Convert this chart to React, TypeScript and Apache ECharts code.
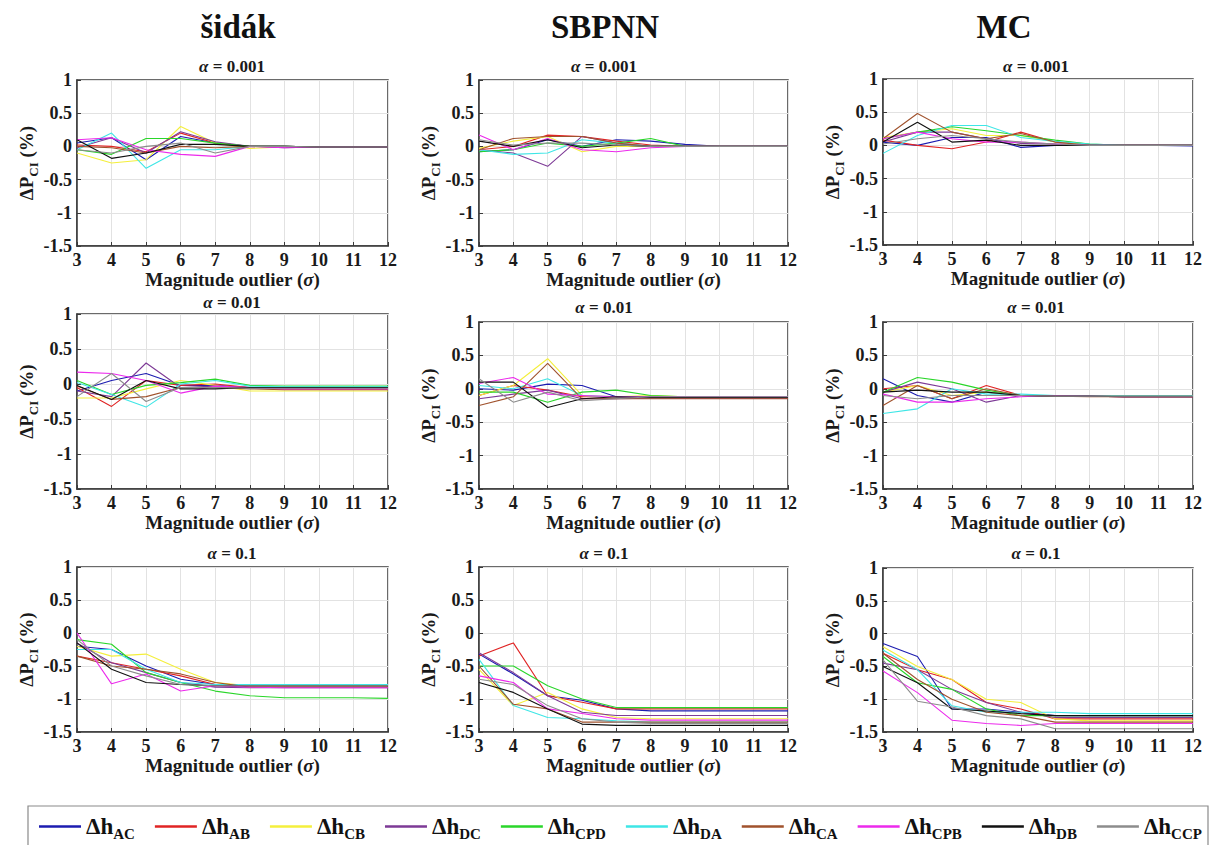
import React, { useEffect, useRef } from "react";
import * as echarts from "echarts";

const X = [3, 4, 5, 6, 7, 8, 9, 10, 11, 12];
const SERIES = ["AC", "AB", "CB", "DC", "CPD", "DA", "CA", "CPB", "DB", "CCP"];
const COLORS = ["#1c1cb0", "#e02424", "#f4ef3c", "#7d3a96", "#2ad62a", "#3ee6e6", "#a0522d", "#ec2aec", "#111111", "#8c8c8c"];
const METHODS = ["šidák", "SBPNN", "MC"];
const ALPHAS = ["0.001", "0.01", "0.1"];
const Y_TICKS = [-1.5, 1];

// šidák, α = 0.001
const sidak001 = [
  [0.05, 0.13, -0.2, 0.15, 0.05, 0, 0, -0.01, -0.01, -0.01],
  [0.02, 0.0, -0.08, 0.2, 0.05, 0, 0, -0.01, -0.01, -0.01],
  [-0.1, -0.25, -0.2, 0.3, 0.05, -0.03, -0.01, -0.01, -0.01, -0.01],
  [-0.02, 0.13, -0.1, 0.22, 0.07, 0, -0.02, -0.01, -0.01, -0.01],
  [-0.05, -0.12, 0.12, 0.12, 0.05, 0, 0, -0.01, -0.01, -0.01],
  [-0.05, 0.2, -0.33, -0.05, -0.05, 0, 0, -0.01, -0.01, -0.01],
  [0.0, -0.02, -0.1, 0.0, -0.02, 0, 0, -0.01, -0.01, -0.01],
  [0.1, 0.13, -0.05, -0.12, -0.15, 0, -0.02, -0.01, -0.01, -0.01],
  [0.1, -0.18, -0.1, 0.03, 0.03, 0, 0, -0.01, -0.01, -0.01],
  [-0.05, -0.1, 0.0, 0.05, -0.1, 0, 0, -0.01, -0.01, -0.01],
];
// SBPNN, α = 0.001
const sbpnn001 = [
  [-0.08, -0.05, 0.1, 0.0, 0.1, 0.08, 0.03, 0, 0, 0],
  [-0.05, 0.0, 0.17, 0.15, 0.08, 0.02, 0, 0, 0, 0],
  [-0.03, 0.08, 0.15, -0.08, 0.0, 0.0, 0, 0, 0, 0],
  [-0.05, -0.1, -0.3, 0.15, 0.05, 0, 0, 0, 0, 0],
  [-0.08, -0.05, 0.05, 0.0, 0.05, 0.12, 0.0, 0, 0, 0],
  [-0.05, -0.12, -0.1, 0.1, 0.05, 0, 0, 0, 0, 0],
  [-0.05, 0.12, 0.15, 0.15, 0.05, 0, 0, 0, 0, 0],
  [0.17, -0.05, 0.12, -0.05, -0.08, -0.02, 0, 0, 0, 0],
  [0.08, 0.0, 0.1, -0.02, 0.02, 0, 0, 0, 0, 0],
  [0.1, 0.02, 0.05, 0.05, 0.02, 0, 0, 0, 0, 0],
];
// MC, α = 0.001
const mc001 = [
  [0.05, 0.0, 0.12, 0.12, -0.03, 0, 0, 0, 0, -0.01],
  [0.08, 0.0, -0.05, 0.05, 0.2, 0.05, 0, 0, 0, 0],
  [0.12, 0.2, 0.25, 0.15, 0.15, 0.05, 0.01, 0, 0, 0],
  [0.05, 0.2, 0.2, 0.1, 0.03, 0.02, 0, 0, 0, 0],
  [0.1, 0.2, 0.28, 0.22, 0.15, 0.08, 0.02, 0, 0, 0],
  [-0.12, 0.15, 0.3, 0.3, 0.12, 0.06, 0.02, 0, 0, 0],
  [0.1, 0.48, 0.2, 0.1, 0.18, 0.05, 0, 0, 0, 0],
  [0.1, 0.2, 0.1, 0.05, 0.05, 0.02, 0, 0, 0, 0],
  [0.05, 0.35, 0.05, 0.08, 0.0, 0.0, 0, 0, 0, 0],
  [0.02, 0.1, 0.15, 0.1, 0.05, 0.02, 0, 0, 0, 0],
];
// šidák, α = 0.01
const sidak01 = [
  [-0.1, 0.05, 0.15, -0.02, -0.02, -0.05, -0.05, -0.05, -0.05, -0.05],
  [-0.05, -0.32, 0.05, -0.02, 0.0, -0.05, -0.06, -0.06, -0.06, -0.06],
  [-0.2, -0.2, -0.07, 0.05, -0.02, -0.1, -0.1, -0.1, -0.1, -0.1],
  [-0.1, -0.18, 0.3, -0.05, -0.03, -0.06, -0.07, -0.07, -0.07, -0.07],
  [0.05, -0.15, -0.02, 0.02, 0.07, -0.02, -0.03, -0.03, -0.03, -0.03],
  [0.02, -0.15, -0.33, 0.0, 0.05, -0.03, -0.04, -0.04, -0.04, -0.04],
  [-0.03, -0.22, -0.18, -0.05, -0.05, -0.07, -0.08, -0.08, -0.08, -0.08],
  [0.17, 0.15, 0.05, -0.13, -0.03, -0.05, -0.07, -0.07, -0.07, -0.07],
  [-0.02, -0.22, 0.05, -0.07, -0.07, -0.05, -0.05, -0.05, -0.05, -0.05],
  [-0.18, 0.15, -0.25, -0.05, -0.05, -0.06, -0.06, -0.06, -0.06, -0.06],
];
// SBPNN, α = 0.01
const sbpnn01 = [
  [0.0, -0.02, 0.07, 0.05, -0.12, -0.12, -0.13, -0.13, -0.13, -0.13],
  [-0.1, 0.05, -0.02, -0.12, -0.12, -0.13, -0.14, -0.14, -0.14, -0.14],
  [-0.1, 0.05, 0.45, -0.1, -0.12, -0.1, -0.12, -0.12, -0.12, -0.12],
  [-0.15, -0.08, -0.02, -0.15, -0.15, -0.14, -0.14, -0.14, -0.14, -0.14],
  [-0.05, -0.05, -0.2, -0.05, -0.02, -0.1, -0.12, -0.12, -0.12, -0.12],
  [0.05, 0.0, 0.15, -0.1, -0.12, -0.12, -0.12, -0.12, -0.12, -0.12],
  [-0.25, -0.12, 0.38, -0.15, -0.15, -0.15, -0.15, -0.15, -0.15, -0.15],
  [0.08, 0.17, -0.08, -0.1, -0.12, -0.12, -0.12, -0.12, -0.12, -0.12],
  [0.1, 0.1, -0.28, -0.15, -0.12, -0.13, -0.13, -0.13, -0.13, -0.13],
  [0.15, -0.2, -0.05, -0.18, -0.15, -0.12, -0.12, -0.12, -0.12, -0.12],
];
// MC, α = 0.01
const mc01 = [
  [0.15, -0.1, -0.2, -0.05, -0.1, -0.11, -0.11, -0.11, -0.11, -0.11],
  [0.0, 0.05, -0.15, 0.05, -0.1, -0.11, -0.11, -0.12, -0.12, -0.12],
  [-0.05, 0.05, -0.1, -0.05, -0.1, -0.11, -0.11, -0.12, -0.12, -0.12],
  [-0.05, 0.1, 0.0, -0.2, -0.1, -0.11, -0.11, -0.12, -0.12, -0.12],
  [-0.05, 0.17, 0.1, -0.02, -0.1, -0.11, -0.11, -0.11, -0.11, -0.11],
  [-0.37, -0.3, 0.0, -0.08, -0.08, -0.1, -0.11, -0.11, -0.11, -0.11],
  [-0.25, 0.05, -0.15, 0.0, -0.1, -0.11, -0.12, -0.12, -0.12, -0.12],
  [-0.08, -0.2, -0.2, -0.15, -0.12, -0.1, -0.11, -0.12, -0.12, -0.12],
  [-0.05, -0.02, -0.05, -0.05, -0.1, -0.11, -0.11, -0.12, -0.12, -0.12],
  [-0.1, -0.15, -0.1, -0.1, -0.1, -0.11, -0.11, -0.11, -0.11, -0.11],
];
// šidák, α = 0.1
const sidak1 = [
  [-0.2, -0.25, -0.5, -0.7, -0.78, -0.8, -0.8, -0.8, -0.8, -0.8],
  [-0.35, -0.45, -0.55, -0.65, -0.78, -0.8, -0.8, -0.8, -0.8, -0.8],
  [-0.2, -0.35, -0.32, -0.55, -0.75, -0.8, -0.8, -0.8, -0.8, -0.8],
  [-0.15, -0.45, -0.6, -0.75, -0.82, -0.83, -0.83, -0.83, -0.83, -0.83],
  [-0.1, -0.17, -0.6, -0.75, -0.88, -0.95, -0.98, -0.98, -0.98, -0.99],
  [-0.25, -0.25, -0.55, -0.75, -0.78, -0.78, -0.78, -0.78, -0.78, -0.78],
  [-0.35, -0.5, -0.55, -0.62, -0.75, -0.82, -0.82, -0.82, -0.82, -0.82],
  [0.0, -0.77, -0.62, -0.88, -0.8, -0.82, -0.83, -0.83, -0.83, -0.83],
  [-0.15, -0.55, -0.75, -0.78, -0.8, -0.8, -0.8, -0.8, -0.8, -0.8],
  [-0.1, -0.5, -0.65, -0.78, -0.8, -0.8, -0.8, -0.8, -0.8, -0.8],
];
// SBPNN, α = 0.1
const sbpnn1 = [
  [-0.32, -0.62, -0.95, -1.02, -1.15, -1.18, -1.18, -1.18, -1.18, -1.18],
  [-0.35, -0.15, -0.95, -1.05, -1.15, -1.15, -1.15, -1.15, -1.15, -1.15],
  [-0.55, -1.1, -0.9, -1.15, -1.28, -1.3, -1.3, -1.3, -1.3, -1.3],
  [-0.3, -0.6, -0.95, -1.2, -1.25, -1.25, -1.25, -1.25, -1.25, -1.25],
  [-0.5, -0.5, -0.8, -1.0, -1.13, -1.13, -1.13, -1.13, -1.13, -1.13],
  [-0.4, -1.1, -1.28, -1.3, -1.33, -1.35, -1.35, -1.35, -1.35, -1.35],
  [-0.5, -1.08, -1.15, -1.35, -1.35, -1.35, -1.35, -1.35, -1.35, -1.35],
  [-0.65, -0.75, -1.15, -1.22, -1.3, -1.32, -1.32, -1.32, -1.32, -1.32],
  [-0.75, -0.9, -1.15, -1.38, -1.4, -1.4, -1.4, -1.4, -1.4, -1.4],
  [-0.7, -0.78, -1.1, -1.3, -1.35, -1.37, -1.37, -1.37, -1.37, -1.37],
];
// MC, α = 0.1
const mc1 = [
  [-0.15, -0.35, -1.15, -1.15, -1.2, -1.25, -1.25, -1.25, -1.25, -1.25],
  [-0.3, -0.55, -0.7, -1.05, -1.15, -1.3, -1.3, -1.3, -1.3, -1.3],
  [-0.2, -0.5, -0.7, -1.0, -1.05, -1.3, -1.33, -1.33, -1.33, -1.33],
  [-0.45, -0.55, -0.85, -1.05, -1.2, -1.28, -1.28, -1.28, -1.28, -1.28],
  [-0.35, -0.75, -0.85, -1.15, -1.25, -1.25, -1.25, -1.25, -1.25, -1.25],
  [-0.25, -0.55, -1.1, -1.2, -1.2, -1.2, -1.22, -1.22, -1.22, -1.22],
  [-0.3, -0.7, -1.0, -1.2, -1.25, -1.35, -1.35, -1.35, -1.35, -1.35],
  [-0.57, -0.9, -1.32, -1.37, -1.4, -1.37, -1.37, -1.37, -1.37, -1.37],
  [-0.5, -0.75, -1.15, -1.18, -1.22, -1.25, -1.25, -1.25, -1.25, -1.25],
  [-0.4, -1.03, -1.12, -1.25, -1.3, -1.45, -1.45, -1.45, -1.45, -1.45],
];

const PANELS = [sidak001, sbpnn001, mc001, sidak01, sbpnn01, mc01, sidak1, sbpnn1, mc1];

// layout (pixels)
const GRIDS = [
  { left: 77, top: 80, width: 311, height: 166 },
  { left: 479, top: 80, width: 309, height: 166 },
  { left: 883, top: 79, width: 310, height: 166 },
  { left: 77, top: 314, width: 311, height: 175 },
  { left: 479, top: 322, width: 309, height: 167 },
  { left: 883, top: 322, width: 310, height: 167 },
  { left: 77, top: 567, width: 311, height: 165 },
  { left: 479, top: 567, width: 309, height: 165 },
  { left: 883, top: 568, width: 310, height: 164 },
];
const SUB_X = [232, 604, 1036];
const SUB_Y = [66, 66, 66, 302, 307, 307, 553, 553, 553];
const HEAD_X = [238, 605, 1004];

const FONT = "Liberation Serif";
const INK = "#1a1a1a";

export default function App() {
  const ref = useRef<HTMLDivElement>(null);
  useEffect(() => {
    if (!ref.current) return;
    const chart = echarts.init(ref.current, undefined, { renderer: "svg" });
    const grid: any[] = [];
    const xAxis: any[] = [];
    const yAxis: any[] = [];
    const series: any[] = [];
    const graphic: any[] = [];
    PANELS.forEach((panel, i) => {
      grid.push({ ...GRIDS[i], show: true, borderColor: "#3a3a3a", borderWidth: 1.5, backgroundColor: "#fff" });
      xAxis.push({
        gridIndex: i,
        type: "value",
        min: X[0],
        max: X[X.length - 1],
        interval: 1,
        axisLine: { show: true, onZero: false, lineStyle: { color: "#3a3a3a", width: 1.5 } },
        axisTick: { show: true, inside: true, length: 4, lineStyle: { color: "#3a3a3a" } },
        axisLabel: { color: INK, fontSize: 18, fontWeight: "bold", fontFamily: FONT, margin: 5 },
        splitLine: { show: true, lineStyle: { color: "#e2e2e2", width: 1 } },
        name: "Magnitude outlier ({i|σ})",
        nameLocation: "middle",
        nameGap: 24,
        nameTextStyle: {
          color: INK, fontSize: 19, fontWeight: "bold", fontFamily: FONT,
          rich: { i: { fontStyle: "italic", fontSize: 19, fontWeight: "bold", fontFamily: FONT, color: INK } },
        },
      });
      yAxis.push({
        gridIndex: i,
        type: "value",
        min: Y_TICKS[0],
        max: Y_TICKS[1],
        interval: 0.5,
        axisLine: { show: true, onZero: false, lineStyle: { color: "#3a3a3a", width: 1.5 } },
        axisTick: { show: true, inside: true, length: 4, lineStyle: { color: "#3a3a3a" } },
        axisLabel: { color: INK, fontSize: 18, fontWeight: "bold", fontFamily: FONT, margin: 5 },
        splitLine: { show: true, lineStyle: { color: "#e2e2e2", width: 1 } },
        name: "{a|ΔP}{b|CI}{a| (%)}",
        nameLocation: "middle",
        nameGap: 36,
        nameTextStyle: {
          fontFamily: FONT,
          rich: {
            a: { fontSize: 19, fontWeight: "bold", fontFamily: FONT, color: INK, lineHeight: 26, verticalAlign: "middle" },
            b: { fontSize: 13, fontWeight: "bold", fontFamily: FONT, color: INK, lineHeight: 26, verticalAlign: "bottom" },
          },
        },
      });
      panel.forEach((vals, k) => {
        series.push({
          name: SERIES[k],
          type: "line",
          xAxisIndex: i,
          yAxisIndex: i,
          data: X.map((x, j) => [x, vals[j]]),
          symbol: "none",
          showSymbol: false,
          lineStyle: { color: COLORS[k], width: 1.1 },
          itemStyle: { color: COLORS[k] },
        });
      });
      graphic.push({
        type: "text",
        x: SUB_X[i % 3],
        y: SUB_Y[i],
        style: {
          text: "{i|α} = " + ALPHAS[Math.floor(i / 3)],
          textAlign: "center",
          textVerticalAlign: "middle",
          align: "center",
          verticalAlign: "middle",
          fill: INK,
          fontSize: 17,
          fontWeight: "bold",
          fontFamily: FONT,
          rich: { i: { fontStyle: "italic", fontSize: 17, fontWeight: "bold", fontFamily: FONT, fill: INK } },
        },
      });
    });
    METHODS.forEach((m, c) => {
      graphic.push({
        type: "text",
        x: HEAD_X[c],
        y: 27,
        style: {
          text: m,
          textAlign: "center",
          textVerticalAlign: "middle",
          align: "center",
          verticalAlign: "middle",
          fill: "#111",
          fontSize: 33,
          fontWeight: "bold",
          fontFamily: FONT,
        },
      });
    });
    graphic.push({
      type: "rect",
      shape: { x: 28, y: 806, width: 1180, height: 50 },
      style: { fill: "none", stroke: "#8a8a8a", lineWidth: 1.2 },
    });
    chart.setOption({
      animation: false,
      backgroundColor: "#fff",
      grid,
      xAxis,
      yAxis,
      series,
      graphic,
      legend: {
        data: SERIES,
        left: 34,
        top: 810,
        icon: "rect",
        itemWidth: 42,
        itemHeight: 2.5,
        itemGap: 20,
        formatter: (n: string) => "{d|Δh}{s|" + n + "}",
        textStyle: {
          fontFamily: FONT,
          rich: {
            d: { fontSize: 23, fontWeight: "bold", fontFamily: FONT, color: "#111", lineHeight: 30, verticalAlign: "middle" },
            s: { fontSize: 15, fontWeight: "bold", fontFamily: FONT, color: "#111", lineHeight: 30, verticalAlign: "bottom" },
          },
        },
      },
    });
    return () => chart.dispose();
  }, []);
  return <div ref={ref} style={{ position: "absolute", left: 0, top: 0, width: 1216, height: 845 }} />;
}
